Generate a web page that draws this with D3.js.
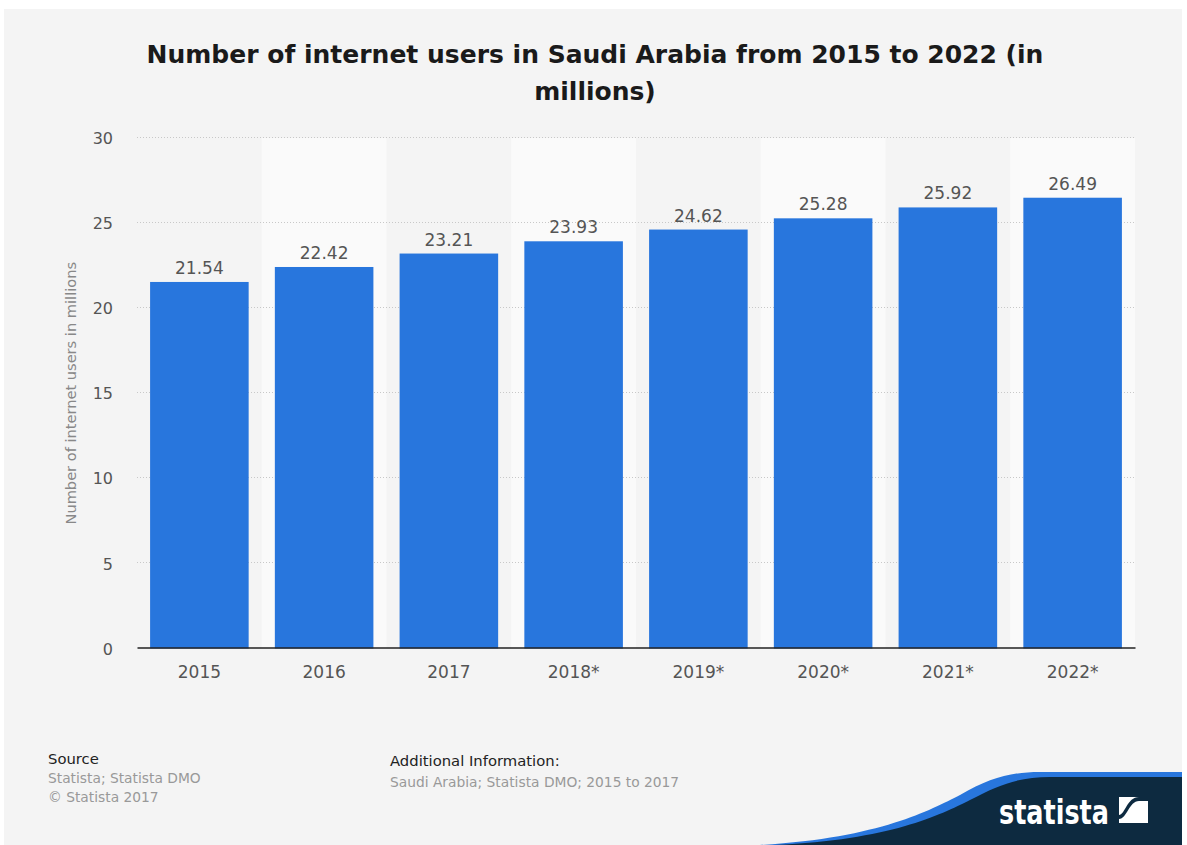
<!DOCTYPE html>
<html>
<head>
<meta charset="utf-8">
<script src="https://cdn.jsdelivr.net/npm/d3@7"></script>
<style>
  html, body { margin: 0; padding: 0; background: #ffffff; }
  svg { display: block; }
</style>
</head>
<body>
<svg id="chart" width="1187" height="845"></svg>
<script>
// Internet users in Saudi Arabia, millions
const years = ["2015", "2016", "2017", "2018*", "2019*", "2020*", "2021*", "2022*"];
const users = [21.54, 22.42, 23.21, 23.93, 24.62, 25.28, 25.92, 26.49];
const yTicks = [0, 5, 10, 15, 20, 25, 30];

const titleLines = ["Number of internet users in Saudi Arabia from 2015 to 2022 (in", "millions)"];
const yAxisTitle = "Number of internet users in millions";
const sourceLines = ["Statista; Statista DMO", "\u00A9 Statista 2017"];
const infoLines = ["Saudi Arabia; Statista DMO; 2015 to 2017"];

const font = "'DejaVu Sans', sans-serif";
const svg = d3.select("#chart");

// card background
svg.append("rect").attr("x", 4).attr("y", 9).attr("width", 1178).attr("height", 836).attr("fill", "#f4f4f4");

// title
svg.append("g").selectAll("text").data(titleLines).join("text")
  .attr("x", 595).attr("y", (d, i) => 63 + i * 37)
  .attr("text-anchor", "middle")
  .attr("font-family", font).attr("font-weight", "bold").attr("font-size", 25)
  .attr("fill", "#1a1a1a")
  .text(d => d);

const plot = { left: 137, right: 1135, top: 138, bottom: 648.5 };

const x = d3.scaleBand().domain(years).range([plot.left, plot.right]).paddingInner(0.21).paddingOuter(0.105);
const xBand = d3.scaleBand().domain(years).range([plot.left, plot.right]).padding(0);
const y = d3.scaleLinear().domain([0, 30]).range([plot.bottom, plot.top]);

// alternating column shading
svg.append("g").selectAll("rect").data(years.filter((d, i) => i % 2 === 1)).join("rect")
  .attr("x", d => xBand(d)).attr("y", plot.top)
  .attr("width", xBand.bandwidth()).attr("height", plot.bottom - plot.top)
  .attr("fill", "#fafafa");

// gridlines
svg.append("g").selectAll("line").data(yTicks.filter(t => t > 0)).join("line")
  .attr("x1", plot.left).attr("x2", plot.right)
  .attr("y1", d => Math.round(y(d)) - 0.5).attr("y2", d => Math.round(y(d)) - 0.5)
  .attr("stroke", "#c8c8c8").attr("stroke-width", 1).attr("stroke-dasharray", "1,2");

// y axis
const yAxis = svg.append("g").attr("transform", `translate(${plot.left - 24},0)`)
  .call(d3.axisLeft(y).tickValues(yTicks).tickSize(0).tickPadding(0));
yAxis.select(".domain").remove();
yAxis.selectAll("text").attr("font-family", font).attr("font-size", 16).attr("fill", "#555").attr("dy", "0.35em");

// bars
svg.append("g").selectAll("rect").data(users).join("rect")
  .attr("x", (d, i) => x(years[i])).attr("y", d => y(d))
  .attr("width", x.bandwidth()).attr("height", d => y(0) - y(d))
  .attr("fill", "#2876dd");

// value labels
svg.append("g").selectAll("text").data(users).join("text")
  .attr("x", (d, i) => x(years[i]) + x.bandwidth() / 2).attr("y", d => y(d) - 8)
  .attr("text-anchor", "middle")
  .attr("font-family", font).attr("font-size", 17).attr("fill", "#555")
  .text(d => d.toFixed(2));

// x axis
const xAxis = svg.append("g").attr("transform", `translate(0,${plot.bottom - 1})`)
  .call(d3.axisBottom(xBand).tickSize(0).tickPadding(18));
xAxis.select(".domain").attr("stroke", "#222").attr("stroke-width", 1.5);
xAxis.selectAll("text").attr("font-family", font).attr("font-size", 17).attr("fill", "#555");

// y axis title
svg.append("text")
  .attr("transform", `translate(76,${(plot.top + plot.bottom) / 2}) rotate(-90)`)
  .attr("text-anchor", "middle")
  .attr("font-family", font).attr("font-size", 14.6).attr("fill", "#888")
  .text(yAxisTitle);

// footer: source
svg.append("text").attr("x", 48).attr("y", 764)
  .attr("font-family", font).attr("font-size", 14.8).attr("fill", "#222").text("Source");
svg.append("g").selectAll("text").data(sourceLines).join("text")
  .attr("x", 48).attr("y", (d, i) => 783 + i * 19)
  .attr("font-family", font).attr("font-size", 13.8).attr("fill", "#999").text(d => d);

// footer: additional information
svg.append("text").attr("x", 390).attr("y", 766)
  .attr("font-family", font).attr("font-size", 14.8).attr("fill", "#222").text("Additional Information:");
svg.append("g").selectAll("text").data(infoLines).join("text")
  .attr("x", 390).attr("y", (d, i) => 787 + i * 19)
  .attr("font-family", font).attr("font-size", 13.8).attr("fill", "#999").text(d => d);

// brand ribbon
svg.append("path")
  .attr("d", "M760,845 C880,838 930,810 960,795 C990,778 1010,772 1040,772 L1182,772 L1182,845 Z")
  .attr("fill", "#2876dd");
svg.append("path")
  .attr("d", "M775,845 C890,840 940,815 970,800 C1000,784 1020,777 1050,777 L1182,777 L1182,845 Z")
  .attr("fill", "#0d2a40");
svg.append("text").attr("x", 999).attr("y", 824)
  .attr("font-family", font).attr("font-weight", "bold").attr("font-size", 33).attr("fill", "#fff")
  .attr("textLength", 110).attr("lengthAdjust", "spacingAndGlyphs")
  .text("statista");
// brand mark
const mark = svg.append("g").attr("transform", "translate(1119,797)");
mark.append("rect").attr("width", 29).attr("height", 26).attr("fill", "#fff");
mark.append("path").attr("d", "M0,26 L0,22 C8,22 10,4 20,4 L29,4 L29,0 L20,0 C8,0 6,18 0,18 Z").attr("fill", "#0d2a40");
</script>
</body>
</html>
